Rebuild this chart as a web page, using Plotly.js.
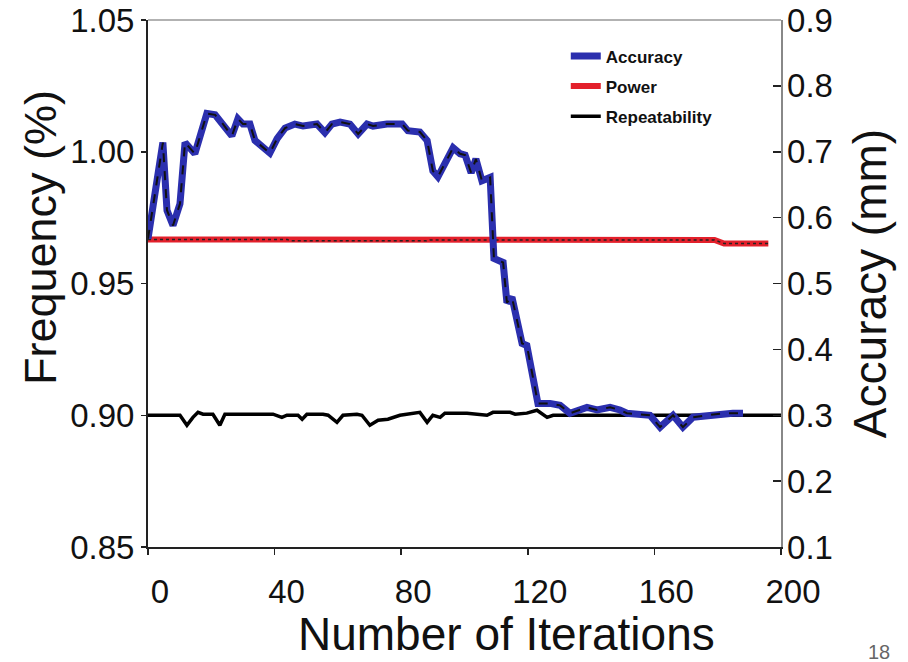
<!DOCTYPE html>
<html>
<head>
<meta charset="utf-8">
<script src="https://cdn.plot.ly/plotly-3.0.1.min.js"></script>
<style>html,body{margin:0;padding:0;background:#fff;}#chart{width:908px;height:662px;}</style>
</head>
<body>
<div id="chart"></div>
<script>
// Accuracy (mm), right axis
const accIter = [0,4.7,6,7.9,10.1,11.7,14.8,18.6,21.2,23.7,26.5,28.4,30,32.2,33.8,38.5,40.8,43.3,46.4,49,53.4,55.9,58.1,60.7,63.8,66.4,69.2,71.1,75.5,80.3,82.1,85.9,88.2,90,91.6,96.4,98.6,100.2,102.1,103.6,105.5,108.1,109.3,112.2,113.4,115,118.2,119.7,123.2,127,130.2,133.3,138.7,141.9,146,149.1,151.3,158.6,161.8,165.9,169,172.2,176.6,181.7,184.8,188];
const accVal = [0.568,0.714,0.611,0.588,0.621,0.714,0.697,0.758,0.756,0.742,0.724,0.750,0.742,0.742,0.717,0.698,0.720,0.736,0.742,0.739,0.742,0.729,0.742,0.745,0.742,0.727,0.742,0.739,0.742,0.742,0.732,0.730,0.717,0.671,0.662,0.706,0.697,0.695,0.668,0.689,0.656,0.661,0.538,0.532,0.471,0.479,0.409,0.406,0.318,0.318,0.315,0.303,0.312,0.308,0.312,0.308,0.303,0.300,0.282,0.300,0.282,0.297,0.300,0.303,0.303,0.303];

// Power (frequency %), left axis
const powIter = [0,44,45,88,89,179,182,196];
const powVal = [0.9667,0.9667,0.9662,0.9662,0.9665,0.9665,0.9652,0.9652];

// Repeatability, left axis
const repIter = [0,10.1,12.3,14.2,15.8,17.4,20.5,22.7,24.3,39.5,42.3,43.9,47.4,48.7,50.2,55.3,56.9,59.7,61.6,66,67.6,70.1,72.7,75.8,79.6,85.9,88.2,90,92.3,93.8,100.8,103.9,107.1,109,114.4,116,119.7,122.9,126.1,128,200];
const repVal = [0.9,0.9,0.8962,0.8992,0.9011,0.9004,0.9004,0.8962,0.9004,0.9004,0.8992,0.9,0.9,0.8985,0.9004,0.9004,0.9,0.8973,0.9,0.9004,0.9,0.8962,0.8981,0.8985,0.9,0.9011,0.8973,0.9,0.8992,0.9008,0.9008,0.9004,0.9,0.9011,0.9011,0.9004,0.9008,0.9019,0.8992,0.9,0.9];

const xTicks = [0,40,80,120,160,200];
const leftTicks = [0.85,0.90,0.95,1.00,1.05];
const rightTicks = [0.1,0.2,0.3,0.4,0.5,0.6,0.7,0.8,0.9];

const FONT = '"Liberation Sans", Arial, sans-serif';
const BLUE = '#2b2fae';
const RED = '#e3202b';

const traces = [
  {x: repIter, y: repVal, yaxis: 'y', mode: 'lines', name: 'Repeatability', legendgroup: 'c', legendrank: 3,
   line: {color: '#000', width: 3.5}},
  {x: powIter, y: powVal, yaxis: 'y', mode: 'lines', name: 'Power', legendgroup: 'b', legendrank: 2,
   line: {color: RED, width: 6}},
  {x: powIter, y: powVal, yaxis: 'y', mode: 'lines', showlegend: false, hoverinfo: 'skip',
   line: {color: '#222', width: 1.5, dash: 'dot'}},
  {x: accIter, y: accVal, yaxis: 'y2', mode: 'lines', name: 'Accuracy', legendgroup: 'a', legendrank: 1,
   line: {color: BLUE, width: 7}},
  {x: accIter, y: accVal, yaxis: 'y2', mode: 'lines', showlegend: false, hoverinfo: 'skip',
   line: {color: '#111', width: 2, dash: 'dash'}}
];

const layout = {
  width: 908, height: 662,
  margin: {l: 148, r: 127, t: 20, b: 115},
  paper_bgcolor: '#fff', plot_bgcolor: '#fff',
  font: {family: FONT, color: '#111'},
  showlegend: true,
  legend: {x: 0.66, y: 0.965, xanchor: 'left', yanchor: 'top', bgcolor: 'rgba(0,0,0,0)',
           font: {family: FONT, size: 17, weight: 'bold', color: '#111'},
           traceorder: 'grouped', tracegroupgap: 5, itemwidth: 30},
  xaxis: {range: [0, 200], tickvals: xTicks, ticktext: xTicks.map(String),
          showline: true, linecolor: '#222', linewidth: 2, showgrid: false, zeroline: false,
          ticks: 'outside', ticklen: 6, tickwidth: 1.5, tickcolor: '#222',
          tickfont: {family: FONT, size: 33, color: '#111'}, ticklabelshift: 12, ticklabelstandoff: 8,
          title: {text: ''}},
  yaxis: {range: [0.85, 1.05], tickvals: leftTicks, ticktext: leftTicks.map(v => v.toFixed(2)),
          showline: true, linecolor: '#222', linewidth: 2, showgrid: false, zeroline: false,
          ticks: 'outside', ticklen: 5, tickwidth: 1.5, tickcolor: '#222',
          tickfont: {family: FONT, size: 33, color: '#111'},
          title: {text: ''}},
  yaxis2: {range: [0.1, 0.9], tickvals: rightTicks, ticktext: rightTicks.map(v => v.toFixed(1)),
           overlaying: 'y', side: 'right',
           showline: true, linecolor: '#888', linewidth: 1.5, showgrid: false, zeroline: false,
           ticks: 'inside', ticklen: 8, tickwidth: 1.5, tickcolor: '#222',
           tickfont: {family: FONT, size: 33, color: '#111'}, ticklabelstandoff: -2,
           title: {text: 'Accuracy (mm)', font: {family: FONT, size: 46, color: '#111'}, standoff: 22}},
  shapes: [
    {type: 'line', xref: 'paper', yref: 'paper', x0: 0, x1: 1, y0: 1, y1: 1, line: {color: '#999', width: 1.5}}
  ],
  annotations: [
    {text: 'Number of Iterations', xref: 'paper', yref: 'paper', x: 0.567, y: -0.165, xanchor: 'center', yanchor: 'middle',
     showarrow: false, font: {family: FONT, size: 46, color: '#111'}},
    {text: 'Frequency (%)', xref: 'paper', yref: 'paper', x: -0.17, y: 0.587, xanchor: 'center', yanchor: 'middle',
     textangle: -90, showarrow: false, font: {family: FONT, size: 45, color: '#111'}},
    {text: '18', xref: 'paper', yref: 'paper', x: 1.155, y: -0.2, xanchor: 'center', yanchor: 'middle',
     showarrow: false, font: {family: FONT, size: 20, color: '#666'}}
  ]
};

Plotly.newPlot('chart', traces, layout, {displayModeBar: false, staticPlot: true});
</script>
</body>
</html>
